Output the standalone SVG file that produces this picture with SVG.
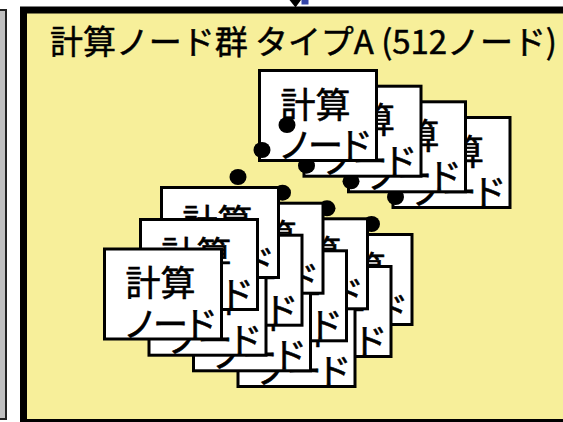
<svg xmlns="http://www.w3.org/2000/svg" xmlns:xlink="http://www.w3.org/1999/xlink" width="563" height="422" viewBox="0 0 563 422">
<style>
.cr{fill:#fff;stroke:#000;stroke-width:3}
.ct{font-family:"Noto Sans CJK JP","Noto Sans CJK SC",sans-serif;font-size:35px;fill:#000;stroke:#000;stroke-width:0.6;text-anchor:middle}
.title{font-family:"Noto Sans CJK JP","Noto Sans CJK SC",sans-serif;font-size:33px;fill:#000;stroke:#000;stroke-width:0.5}
.dot{fill:#000}
</style>
<defs>
<g id="card">
<rect class="cr" x="1.5" y="1.5" width="117" height="90"/>
<text class="ct" x="57.5" y="48.5">計算</text>
<text class="ct" x="65" y="89" letter-spacing="-5">ノード</text>
</g>
<g id="dots">
<ellipse class="dot" cx="0" cy="0" rx="8.5" ry="8"/>
<ellipse class="dot" cx="-25" cy="25" rx="8.5" ry="8"/>
<ellipse class="dot" cx="-49" cy="52" rx="8.5" ry="8"/>
</g>
</defs>
<rect width="563" height="422" fill="#fff"/>
<g id="left-box">
<rect x="-10" y="10" width="16" height="409" fill="#c0c0c0" stroke="#222" stroke-width="2"/>
</g>
<g id="group-A">
<rect x="23.5" y="10" width="560" height="412.5" fill="#F7EF9A" stroke="#000" stroke-width="7"/>
<text class="title" x="50" y="54" textLength="507" lengthAdjust="spacing">計算ノード群 タイプA (512ノード)</text>
</g>
<g id="connectors">
<polygon points="289.5,0 301,0 295.5,7.5" fill="#000"/>
<rect x="301.5" y="0" width="7" height="4.5" fill="#3545A8"/>
</g>
<g id="col4">
<g id="node-u4" transform="translate(391.5,116)"><use xlink:href="#card"/></g>
<g id="node-r3c4" transform="translate(293.5,233)"><use xlink:href="#card"/></g>
<g id="node-r2c4" transform="translate(272.5,265)"><use xlink:href="#card"/></g>
<g id="node-r1c4" transform="translate(236.5,295)"><use xlink:href="#card"/></g>
<g id="dots-c4" transform="translate(420.5,172)"><use xlink:href="#dots"/></g>
</g>
<g id="col3">
<g id="node-u3" transform="translate(347,100.3)"><use xlink:href="#card"/></g>
<g id="node-r3c3" transform="translate(249,217.3)"><use xlink:href="#card"/></g>
<g id="node-r2c3" transform="translate(228,249.3)"><use xlink:href="#card"/></g>
<g id="node-r1c3" transform="translate(192,279.3)"><use xlink:href="#card"/></g>
<g id="dots-c3" transform="translate(376,156.3)"><use xlink:href="#dots"/></g>
</g>
<g id="col2">
<g id="node-u2" transform="translate(302.5,84.7)"><use xlink:href="#card"/></g>
<g id="node-r3c2" transform="translate(204.5,201.7)"><use xlink:href="#card"/></g>
<g id="node-r2c2" transform="translate(183.5,233.7)"><use xlink:href="#card"/></g>
<g id="node-r1c2" transform="translate(147.5,263.7)"><use xlink:href="#card"/></g>
<g id="dots-c2" transform="translate(331.5,140.7)"><use xlink:href="#dots"/></g>
</g>
<g id="col1">
<g id="node-u1" transform="translate(258,69)"><use xlink:href="#card"/></g>
<g id="node-r3c1" transform="translate(160,186)"><use xlink:href="#card"/></g>
<g id="node-r2c1" transform="translate(139,218)"><use xlink:href="#card"/></g>
<g id="node-r1c1" transform="translate(103,247.5)"><use xlink:href="#card"/></g>
<g id="dots-c1" transform="translate(287,125)"><use xlink:href="#dots"/></g>
</g>
</svg>
